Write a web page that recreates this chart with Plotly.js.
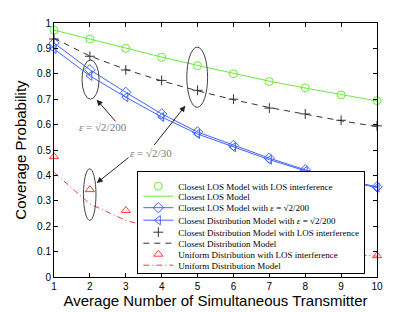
<!DOCTYPE html>
<html>
<head>
<meta charset="utf-8">
<script src="https://cdn.plot.ly/plotly-3.0.1.min.js"></script>
<style>html,body{margin:0;padding:0;background:#fff;}#chart{width:415px;height:312px;}</style>
</head>
<body>
<div id="chart"></div>
<script>
// ---- data ----
var xs = [1, 2, 3, 4, 5, 6, 7, 8, 9, 10];
var losInterf = [0.972, 0.937, 0.900, 0.865, 0.832, 0.800, 0.770, 0.745, 0.717, 0.694];
var losModel  = [0.972, 0.936, 0.900, 0.866, 0.833, 0.801, 0.771, 0.744, 0.718, 0.693];
var losEps    = [0.921, 0.816, 0.727, 0.642, 0.571, 0.518, 0.468, 0.422, 0.386, 0.355];
var distEps   = [0.898, 0.792, 0.708, 0.630, 0.563, 0.511, 0.462, 0.418, 0.382, 0.352];
var distInterf= [0.937, 0.869, 0.815, 0.774, 0.735, 0.700, 0.665, 0.642, 0.617, 0.595];
var distModel = [0.940, 0.870, 0.817, 0.772, 0.733, 0.698, 0.667, 0.640, 0.615, 0.592];
var uniInterf = [0.474, 0.344, 0.262, 0.215, 0.180, 0.155, 0.135, 0.118, 0.100, 0.084];
var uniModel  = [0.412, 0.288, 0.223, 0.185, 0.157, 0.136, 0.120, 0.106, 0.093, 0.082];
var xTicks = [1, 2, 3, 4, 5, 6, 7, 8, 9, 10];
var yTicks = [0, 0.1, 0.2, 0.3, 0.4, 0.5, 0.6, 0.7, 0.8, 0.9, 1];
var yTickText = ['0', '0.1', '0.2', '0.3', '0.4', '0.5', '0.6', '0.7', '0.8', '0.9', '1'];
var names = [
  'Closest LOS Model with LOS interference',
  'Closest LOS Model',
  'Closest LOS Model with <i>ε</i> = √2/200',
  'Closest Distribution Model with <i>ε</i> = √2/200',
  'Closest Distribution Model with LOS interference',
  'Closest Distribution Model',
  'Uniform Distribution with LOS interference',
  'Uniform Distribution Model'
];

var GREEN = '#6be83c', BLUE = '#4262ff', RED = '#ff3b3b', DARK = '#333333';

var traces = [
  {x: xs, y: losInterf, name: names[0], mode: 'markers', cliponaxis: false,
   marker: {symbol: 'circle-open', size: 8, color: GREEN, line: {width: 1}}},
  {x: xs, y: losModel, name: names[1], mode: 'lines', line: {color: GREEN, width: 1}},
  {x: xs, y: losEps, name: names[2], mode: 'lines+markers', cliponaxis: false,
   line: {color: BLUE, width: 1}, marker: {symbol: 'diamond-open', size: 8, color: BLUE, line: {width: 1}}},
  {x: xs, y: distEps, name: names[3], mode: 'lines+markers', cliponaxis: false,
   line: {color: BLUE, width: 1}, marker: {symbol: 'triangle-left-open', size: 8, color: BLUE, line: {width: 1}}},
  {x: xs, y: distInterf, name: names[4], mode: 'markers', cliponaxis: false,
   marker: {symbol: 'cross-thin-open', size: 7, color: DARK, line: {width: 1, color: DARK}}},
  {x: xs, y: distModel, name: names[5], mode: 'lines', line: {color: DARK, width: 1, dash: '6px,5px'}},
  {x: xs, y: uniInterf, name: names[6], mode: 'markers', cliponaxis: false,
   marker: {symbol: 'triangle-up-open', size: 8, color: RED, line: {width: 1}}},
  {x: xs, y: uniModel, name: names[7], mode: 'lines', line: {color: RED, width: 1, dash: '6px,3px,1px,3px'}}
];

var epsFont = {family: 'Liberation Serif, serif', size: 11, color: '#7a7a7a'};
var layout = {
  width: 415, height: 312,
  margin: {l: 54, r: 38, t: 23, b: 35},
  paper_bgcolor: '#ffffff', plot_bgcolor: '#ffffff',
  font: {family: 'Liberation Sans, Arial, sans-serif', color: '#000'},
  xaxis: {
    range: [1, 10], tickvals: xTicks, ticks: 'inside', ticklen: 4, tickcolor: '#000',
    showline: true, linecolor: '#000', linewidth: 1, mirror: 'ticks', showgrid: false, zeroline: false,
    tickfont: {size: 10}, title: {text: 'Average Number of Simultaneous Transmitter', font: {size: 15}, standoff: 2}
  },
  yaxis: {
    range: [0, 1], tickvals: yTicks, ticktext: yTickText, ticks: 'inside', ticklen: 4, tickcolor: '#000',
    showline: true, linecolor: '#000', linewidth: 1, mirror: 'ticks', showgrid: false, zeroline: false,
    tickfont: {size: 10}, title: {text: 'Coverage Probability', font: {size: 15}, standoff: 6}
  },
  showlegend: true,
  legend: {
    x: 0.258, y: 1, xanchor: 'left', yanchor: 'top',
    bgcolor: '#ffffff', bordercolor: '#000', borderwidth: 1,
    font: {family: 'Liberation Serif, serif', size: 9, color: '#000'},
    itemwidth: 30, tracegroupgap: 0
  },
  shapes: [
    {type: 'circle', xref: 'x', yref: 'y', x0: 1.78, x1: 2.256, y0: 0.700, y1: 0.855, line: {color: '#444', width: 1}},
    {type: 'circle', xref: 'x', yref: 'y', x0: 4.70, x1: 5.28, y0: 0.668, y1: 0.905, line: {color: '#444', width: 1}},
    {type: 'circle', xref: 'x', yref: 'y', x0: 1.82, x1: 2.17, y0: 0.223, y1: 0.426, line: {color: '#444', width: 1}}
  ],
  annotations: [
    {xref: 'x', yref: 'y', x: 2.37, y: 0.592, text: '<i>ε</i> = √2/200', showarrow: false, font: epsFont},
    {xref: 'x', yref: 'y', x: 3.71, y: 0.49, text: '<i>ε</i> = √2/30', showarrow: false, font: epsFont},
    {xref: 'x', yref: 'y', axref: 'x', ayref: 'y', x: 2.19, y: 0.698, ax: 2.75, ay: 0.607, text: '',
     showarrow: true, arrowhead: 2, arrowsize: 1.2, arrowwidth: 1, arrowcolor: '#222'},
    {xref: 'x', yref: 'y', axref: 'x', ayref: 'y', x: 4.66, y: 0.674, ax: 3.76, ay: 0.514, text: '',
     showarrow: true, arrowhead: 2, arrowsize: 1.2, arrowwidth: 1, arrowcolor: '#222'},
    {xref: 'x', yref: 'y', axref: 'x', ayref: 'y', x: 2.19, y: 0.37, ax: 3.12, ay: 0.475, text: '',
     showarrow: true, arrowhead: 2, arrowsize: 1.2, arrowwidth: 1, arrowcolor: '#222'}
  ]
};

Plotly.newPlot('chart', traces, layout, {staticPlot: true}).then(function (gd) {
  // compress legend rows to match the reference's tight spacing, then place the box
  var offs = [0, 10, 21.5, 34, 46, 57, 68, 79];
  var leg = gd.querySelector('.legend');
  var items = gd.querySelectorAll('.legend .traces');
  if (!leg || !items.length) return;
  var m = /translate\(([-\d.]+),\s*([-\d.]+)\)/.exec(items[0].getAttribute('transform'));
  if (!m) return;
  var x0 = parseFloat(m[1]), y0 = parseFloat(m[2]);
  for (var i = 0; i < items.length; i++) {
    items[i].setAttribute('transform', 'translate(' + x0 + ',' + (y0 + offs[i]) + ')');
  }
  var bg = gd.querySelector('.legend .bg');
  if (bg) bg.setAttribute('height', y0 + offs[items.length - 1] + 8);
  var fl = gd._fullLayout, xa = fl.xaxis, ya = fl.yaxis;
  var lx = xa._offset + 0.258 * xa._length;
  var ly = ya._offset + (1 - 0.4185) * ya._length;
  leg.setAttribute('transform', 'translate(' + lx + ',' + ly + ')');
});
</script>
</body>
</html>
